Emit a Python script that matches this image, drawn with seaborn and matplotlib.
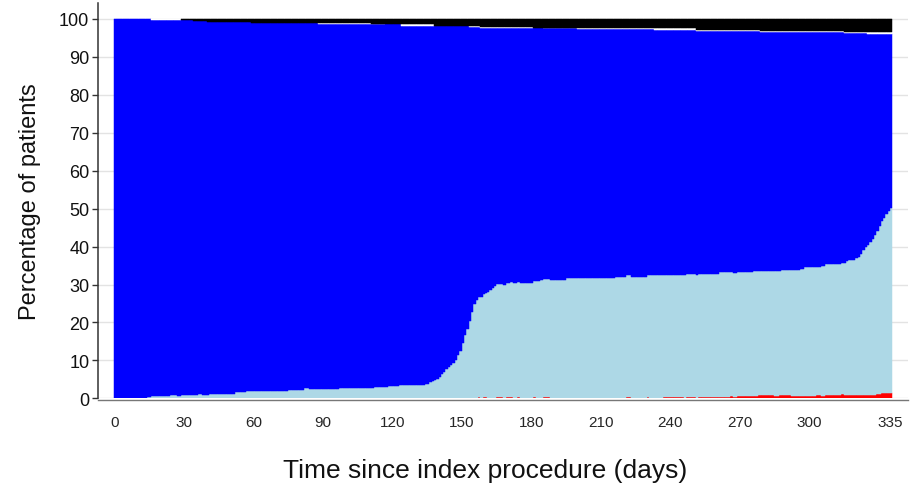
import numpy as np
import pandas as pd
import matplotlib
matplotlib.use("Agg")
import matplotlib.pyplot as plt
import seaborn as sns

# Day since index procedure (one bar per day)
days = list(range(336))

# Percentage of patients in each state per day (bottom to top of the stack)
red = ([0.0] * 52 + [0.08] * 9 + [0.0] * 96 + [0.3] + [0.0] + [0.3] * 2 + [0.0] * 4
       + [0.35] * 3 + [0.0] + [0.35] * 3 + [0.0] * 2 + [0.3] + [0.0] * 6 + [0.3]
       + [0.0] * 3 + [0.35] * 3 + [0.0] * 33 + [0.35] * 2 + [0.0] * 7 + [0.35]
       + [0.0] * 6 + [0.44] * 9 + [0.0] + [0.44] * 4 + [0.0] + [0.44] * 14 + [0.6]
       + [0.44] * 2 + [0.6] * 9 + [0.88] * 7 + [0.6] * 2 + [0.88] * 5 + [0.6] * 11
       + [0.88] * 2 + [0.6] * 2 + [0.88] * 2 + [0.88] * 5 + [1.15] + [0.88] * 14
       + [1.15] * 2 + [1.4] * 5)

light_blue = ([0.0] * 8 + [0.1] * 6 + [0.35] * 2 + [0.6] * 8 + [0.87] * 3 + [0.7] * 2
              + [0.87] * 7 + [1.1] * 2 + [0.95] * 3 + [1.2] * 11 + [1.5] * 2
              + [1.65] * 3 + [1.8] * 3 + [1.9] * 9 + [2.0] * 6 + [2.2] * 7 + [2.6] * 2
              + [2.45] * 13 + [2.7] * 15 + [2.95] * 6 + [3.25] * 5 + [3.5] * 11
              + [3.7, 3.9, 4.2, 4.5, 4.8, 5.2, 5.6, 6.3, 6.9, 7.6, 8.2, 8.7, 9.4,
                 10.2, 11.3, 12.6, 14.5, 16.6, 18.3, 20.5, 22.8, 24.9, 25.9, 26.3,
                 26.8, 27.2, 27.5, 28.0, 28.5, 29.0, 29.5]
              + [29.7] * 3 + [30.0] * 3 + [30.3] * 8 + [30.5] * 3 + [30.8] * 2
              + [31.1] * 4 + [31.3] * 7 + [31.6] * 10 + [31.8] * 11 + [32.1] * 15
              + [32.4] * 6 + [32.0] * 9 + [32.4] * 15 + [32.8] * 5 + [32.7] * 3
              + [32.6] * 7 + [33.0] * 2 + [32.7] * 7 + [33.0] * 2 + [32.7]
              + [33.0] * 4 + [33.3] * 4 + [33.6] * 2 + [33.9] * 4 + [34.1]
              + [33.8] * 2 + [34.4] * 5 + [34.6] * 5 + [34.9] + [35.3] + [35.5] * 3
              + [36.0, 36.4, 37.1, 38.1, 39.1, 39.6, 40.4, 41.1, 42.1, 43.0, 44.3,
                 45.3, 46.2, 47.1, 47.9, 48.8])

white = ([0.0] * 16 + [0.35] * 13 + [0.0] * 5 + [0.0] * 6 + [0.0] * 19 + [0.0] * 29
         + [0.26] * 8 + [0.25] * 15 + [0.18] * 6 + [0.0] * 7 + [0.35] * 14
         + [0.0] * 15 + [0.26] * 5 + [0.18] * 23 + [0.0] * 4 + [0.18] * 15
         + [0.35] * 8 + [0.26] * 25 + [0.44] * 18 + [0.26] * 28 + [0.35] * 36
         + [0.25] * 10 + [0.44] * 7 + [0.53] * 4)

black = ([0.0] * 16 + [0.0] * 13 + [0.35] * 5 + [0.5] * 6 + [0.7] * 19 + [1.0] * 29
         + [1.0] * 8 + [1.15] * 15 + [1.23] * 6 + [1.4] * 7 + [1.4] * 14
         + [1.9] * 15 + [1.76] * 5 + [2.1] * 23 + [2.3] * 4 + [2.3] * 15
         + [2.3] * 8 + [2.5] * 25 + [2.5] * 18 + [2.9] * 28 + [3.2] * 36
         + [3.35] * 10 + [3.5] * 7 + [3.5] * 4)

for series in (red, light_blue, white, black):
    assert len(series) == len(days)

# Blue is the remainder so that each day's states add up to 100 %
blue = list(100 - np.array(red) - np.array(light_blue) - np.array(white) - np.array(black))

x_ticks = [0, 30, 60, 90, 120, 150, 180, 210, 240, 270, 300, 335]
y_ticks = list(range(0, 101, 10))

colors = {"black": "#000000", "white": "#ffffff", "blue": "#0000ff",
          "lightblue": "#add8e6", "red": "#ff0000"}
# seaborn stacks the first hue level on top
stack_order = ["black", "white", "blue", "lightblue", "red"]

frames = []
for name, vals in [("red", red), ("lightblue", light_blue), ("blue", blue),
                   ("white", white), ("black", black)]:
    frames.append(pd.DataFrame({"day": days, "pct": vals, "state": name}))
df = pd.concat(frames, ignore_index=True)

sns.set_theme(style="white")
plt.rcParams["font.family"] = ["Liberation Sans", "DejaVu Sans"]

fig = plt.figure(figsize=(9.13, 4.89), dpi=100)
ax = fig.add_axes([0.1077, 0.1834, 0.8865, 0.8084])

sns.histplot(data=df, x="day", weights="pct", hue="state", hue_order=stack_order,
             multiple="stack", binwidth=1, binrange=(0, 336), palette=colors, alpha=1,
             linewidth=0, legend=False, ax=ax)

# Outline each daily bar in its own colour so neighbouring bars join without seams
for patch in ax.patches:
    if patch.get_height() > 0:
        patch.set_edgecolor(patch.get_facecolor())
        patch.set_linewidth(0.35)

ax.set_xlim(-6.9, 342.6)
ax.set_ylim(0, 104.2)
ax.set_xticks(x_ticks)
ax.set_yticks(y_ticks)
ax.set_xticklabels([str(t) for t in x_ticks], fontsize=10, color="#111111")
ax.set_yticklabels([str(t) for t in y_ticks], fontsize=13, color="#111111")
ax.tick_params(axis="y", length=4.5, width=1, color="#333333", pad=2, left=True)
ax.tick_params(axis="x", length=0, pad=11)

ax.yaxis.grid(True, color="#e3e3e3", linewidth=1)
ax.xaxis.grid(False)
ax.set_axisbelow(True)

for side in ("top", "right"):
    ax.spines[side].set_visible(False)
ax.spines["left"].set_color("#333333")
ax.spines["left"].set_linewidth(1.1)
ax.spines["bottom"].set_color("#777777")
ax.spines["bottom"].set_linewidth(1.0)
ax.spines["bottom"].set_position(("outward", 1.0))

ax.set_xlabel("Time since index procedure (days)", fontsize=19, color="#111111")
ax.xaxis.set_label_coords(0.478, -0.152)
ax.set_ylabel("Percentage of patients", fontsize=17, color="#111111", labelpad=13)

fig.savefig("out.png", dpi=100)
